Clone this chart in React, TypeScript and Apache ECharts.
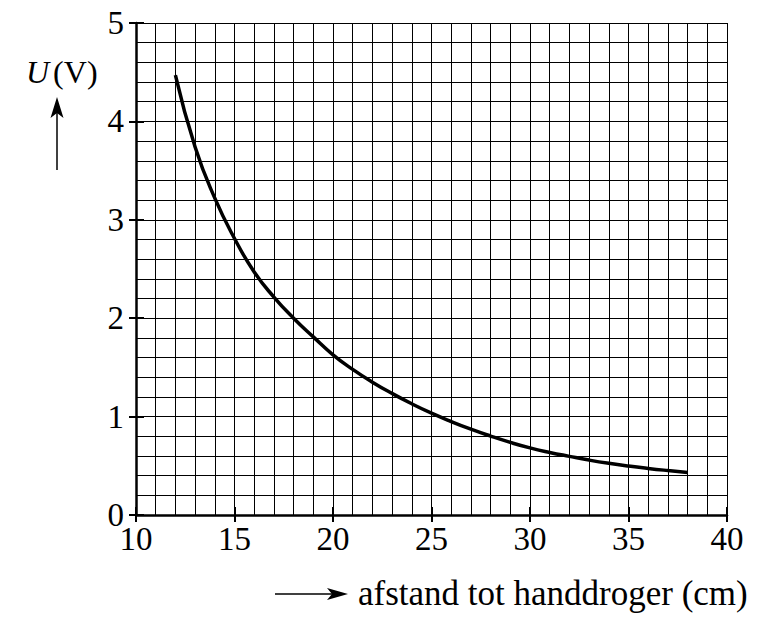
import { useEffect, useRef } from "react";
import * as echarts from "echarts";

// distance to the hand dryer (cm) and measured voltage U (V)
const distances = [12, 13, 14, 15, 16, 17, 18, 19, 20, 21, 22, 23, 24, 25, 26, 27, 28, 29, 30, 31, 32, 33, 34, 35, 36, 37, 38];
const voltages = [4.47, 3.74, 3.22, 2.81, 2.47, 2.215, 2.0, 1.81, 1.628, 1.48, 1.35, 1.235, 1.13, 1.035, 0.95, 0.872, 0.802, 0.738, 0.682, 0.636, 0.596, 0.558, 0.525, 0.497, 0.473, 0.452, 0.433];

const X_MIN = 10;
const X_MAX = 40;
const Y_MIN = 0;
const Y_MAX = 5;

const FONT = "Liberation Serif, Times New Roman, serif";
const FONT_SIZE = 33;


export default function App() {
  const containerRef = useRef<HTMLDivElement | null>(null);

  useEffect(() => {
    if (!containerRef.current) {
      return;
    }

    const chart = echarts.init(containerRef.current, undefined, { renderer: "svg" });

    const gridLine = { lineStyle: { color: "#000", width: 1 } };

    const option: echarts.EChartsOption = {
      animation: false,
      backgroundColor: "#fff",
      textStyle: { fontFamily: FONT },
      grid: { left: 136, right: 43, top: 23, bottom: 119 },
      xAxis: [
        {
          type: "value",
          min: X_MIN,
          max: X_MAX,
          interval: 5,
          axisLine: { lineStyle: { color: "#000", width: 2.5 } },
          axisTick: { show: true, inside: false, length: 7, lineStyle: { color: "#000", width: 2 } },
          axisLabel: { color: "#000", fontSize: FONT_SIZE, fontFamily: FONT, margin: 7 },
          splitLine: { show: true, ...gridLine },
          minorTick: { show: false, splitNumber: 5 },
          minorSplitLine: { show: true, ...gridLine },
        },
        {
          type: "value",
          min: X_MIN,
          max: X_MAX,
          interval: 5,
          position: "bottom",
          axisLine: { show: false },
          axisTick: { show: true, inside: true, length: 8, lineStyle: { color: "#000", width: 2 } },
          axisLabel: { show: false },
          splitLine: { show: false },
        },
      ],
      yAxis: [
        {
          type: "value",
          min: Y_MIN,
          max: Y_MAX,
          interval: 1,
          axisLine: { show: true, lineStyle: { color: "#000", width: 2.5 } },
          axisTick: { show: true, inside: false, length: 7, lineStyle: { color: "#000", width: 2 } },
          axisLabel: { color: "#000", fontSize: FONT_SIZE, fontFamily: FONT, margin: 12 },
          splitLine: { show: true, ...gridLine },
          minorTick: { show: false, splitNumber: 5 },
          minorSplitLine: { show: true, ...gridLine },
        },
        {
          type: "value",
          min: Y_MIN,
          max: Y_MAX,
          interval: 1,
          position: "left",
          axisLine: { show: false },
          axisTick: { show: true, inside: true, length: 8, lineStyle: { color: "#000", width: 2 } },
          axisLabel: { show: false },
          splitLine: { show: false },
        },
      ],
      graphic: [
        {
          type: "text",
          x: 26,
          y: 72,
          style: {
            text: "{u|U}{v|(V)}",
            verticalAlign: "middle",
            fill: "#000",
            rich: {
              u: { fontFamily: FONT, fontSize: 32, fontStyle: "italic", fill: "#000", padding: [0, 4, 0, 0] },
              v: { fontFamily: FONT, fontSize: 32, fill: "#000" },
            },
          },
        },
        {
          type: "line",
          shape: { x1: 57, y1: 170, x2: 57, y2: 110 },
          style: { stroke: "#000", lineWidth: 1.5 },
        },
        {
          type: "polygon",
          shape: { points: [[57, 97], [50.5, 118], [57, 113], [63.5, 118]] },
          style: { fill: "#000" },
        },
        {
          type: "line",
          shape: { x1: 275, y1: 594, x2: 340, y2: 594 },
          style: { stroke: "#000", lineWidth: 1.5 },
        },
        {
          type: "polygon",
          shape: { points: [[348, 594], [327, 588], [332, 594], [327, 600]] },
          style: { fill: "#000" },
        },
        {
          type: "text",
          x: 358,
          y: 593,
          style: {
            text: "afstand tot handdroger (cm)",
            fontFamily: FONT,
            fontSize: 35,
            verticalAlign: "middle",
            fill: "#000",
          },
        },
      ],
      series: [
        {
          type: "line",
          xAxisIndex: 0,
          yAxisIndex: 0,
          data: distances.map((d, i) => [d, voltages[i]]),
          smooth: 0.5,
          showSymbol: false,
          lineStyle: { color: "#000", width: 3.5 },
          z: 5,
        },
      ],
    };

    chart.setOption(option);

    return () => {
      chart.dispose();
    };
  }, []);

  return (
    <div
      ref={containerRef}
      style={{ position: "absolute", left: 0, top: 0, width: 770, height: 634 }}
    />
  );
}
